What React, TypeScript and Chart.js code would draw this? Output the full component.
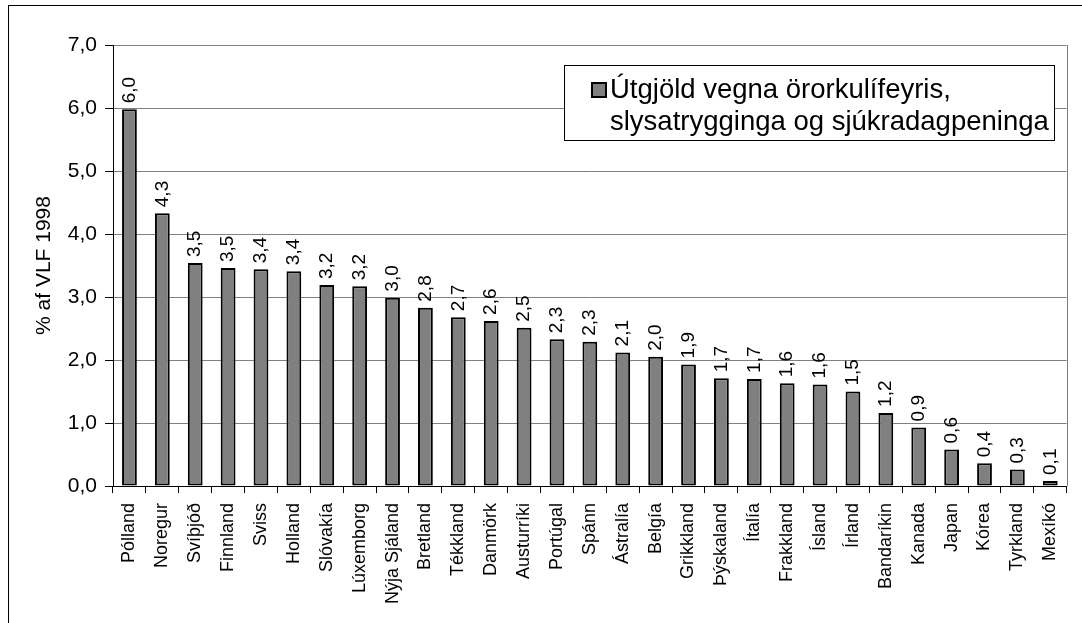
import React, { useEffect, useRef } from "react";
import { Chart, registerables } from "chart.js";

Chart.register(...registerables);

const categories: string[] = [
  "Pólland", "Noregur", "Svíþjóð", "Finnland", "Sviss", "Holland", "Slóvakía",
  "Lúxemborg", "Nýja Sjáland", "Bretland", "Tékkland", "Danmörk", "Austurríki",
  "Portúgal", "Spánn", "Ástralía", "Belgía", "Grikkland", "Þýskaland", "Ítalía",
  "Frakkland", "Ísland", "Írland", "Bandaríkin", "Kanada", "Japan", "Kórea",
  "Tyrkland", "Mexíkó",
];

const values: number[] = [
  5.98, 4.33, 3.54, 3.46, 3.44, 3.41, 3.19, 3.17, 2.99, 2.83, 2.68, 2.62, 2.51,
  2.33, 2.29, 2.12, 2.05, 1.93, 1.71, 1.70, 1.63, 1.61, 1.50, 1.16, 0.93, 0.58,
  0.36, 0.26, 0.08,
];

const valueLabels: string[] = [
  "6,0", "4,3", "3,5", "3,5", "3,4", "3,4", "3,2", "3,2", "3,0", "2,8", "2,7",
  "2,6", "2,5", "2,3", "2,3", "2,1", "2,0", "1,9", "1,7", "1,7", "1,6", "1,6",
  "1,5", "1,2", "0,9", "0,6", "0,4", "0,3", "0,1",
];

const legendLines: string[] = [
  "Útgjöld vegna örorkulífeyris,",
  "slysatrygginga og sjúkradagpeninga",
];

const yTitle = "% af VLF 1998";
const yMin = 0;
const yMax = 7;
const yStep = 1;

const FONT = "'Liberation Sans', Arial, Helvetica, sans-serif";

const labelsPlugin = {
  id: "barValueLabels",
  afterDatasetsDraw(chart: any) {
    const ctx = chart.ctx;
    const meta = chart.getDatasetMeta(0);
    ctx.save();
    ctx.font = `19px ${FONT}`;
    ctx.fillStyle = "#000";
    ctx.textAlign = "left";
    ctx.textBaseline = "middle";
    meta.data.forEach((el: any, i: number) => {
      ctx.save();
      ctx.translate(el.x, el.y - 6);
      ctx.rotate(-Math.PI / 2);
      ctx.fillText(valueLabels[i], 0, 0);
      ctx.restore();
    });
    ctx.restore();
  },
};

const framePlugin = {
  id: "frameAndLegend",
  afterDraw(chart: any) {
    const ctx = chart.ctx;
    const a = chart.chartArea;
    ctx.save();
    // right border of plot area
    ctx.strokeStyle = "#808080";
    ctx.lineWidth = 1;
    ctx.beginPath();
    ctx.moveTo(Math.round(a.right) + 0.5, a.top);
    ctx.lineTo(Math.round(a.right) + 0.5, a.bottom);
    ctx.stroke();

    // legend box
    const bx = 555.5, by = 59.5, bw = 490, bh = 75;
    ctx.fillStyle = "#fff";
    ctx.fillRect(bx, by, bw, bh);
    ctx.strokeStyle = "#000";
    ctx.strokeRect(bx, by, bw, bh);
    // swatch
    ctx.fillStyle = "#808080";
    ctx.fillRect(582, 76, 16, 16);
    ctx.lineWidth = 2;
    ctx.strokeRect(583, 77, 14, 14);
    // text
    ctx.fillStyle = "#000";
    ctx.font = `27.5px ${FONT}`;
    ctx.textAlign = "left";
    ctx.textBaseline = "alphabetic";
    ctx.fillText(legendLines[0], 601, 92);
    ctx.fillText(legendLines[1], 601, 124);
    ctx.restore();
  },
};

export default function App() {
  const ref = useRef<HTMLCanvasElement | null>(null);

  useEffect(() => {
    if (!ref.current) return;
    const chart = new Chart(ref.current, {
      type: "bar",
      data: {
        labels: categories,
        datasets: [
          {
            label: legendLines.join(" "),
            data: values,
            backgroundColor: "#808080",
            borderColor: "#000",
            borderWidth: 2,
            borderSkipped: false,
            barPercentage: 0.45,
            categoryPercentage: 1,
          },
        ],
      },
      options: {
        responsive: false,
        animation: false,
        layout: { padding: { top: 39, right: 7, left: 0, bottom: 0 } },
        plugins: {
          legend: { display: false },
          tooltip: { enabled: false },
        },
        scales: {
          x: {
            grid: {
              display: true,
              drawOnChartArea: false,
              tickLength: 7,
              color: "#000",
              offset: true,
            },
            border: { display: true, color: "#000", width: 1 },
            ticks: {
              autoSkip: false,
              maxRotation: 90,
              minRotation: 90,
              padding: 10,
              color: "#000",
              font: { family: FONT, size: 18 },
            },
            afterFit(scale: any) {
              scale.height = 137;
            },
          },
          y: {
            min: yMin,
            max: yMax,
            ticks: {
              stepSize: yStep,
              padding: 8,
              color: "#000",
              font: { family: FONT, size: 21 },
              callback: (v: any) => Number(v).toFixed(1).replace(".", ","),
            },
            grid: {
              color: "#808080",
              tickLength: 8,
              tickColor: "#000",
            },
            border: { display: true, color: "#000", width: 1 },
            title: {
              display: true,
              text: yTitle,
              color: "#000",
              font: { family: FONT, size: 21 },
              padding: { top: 23, bottom: 0 },
            },
            afterFit(scale: any) {
              scale.width = 104;
            },
          },
        },
      },
      plugins: [labelsPlugin, framePlugin],
    });
    return () => chart.destroy();
  }, []);

  return (
    <div
      style={{
        position: "absolute",
        left: 8,
        top: 5,
        width: 1074,
        height: 618,
        borderLeft: "1px solid #000",
        borderTop: "1px solid #000",
        boxSizing: "border-box",
        background: "#fff",
      }}
    >
      <canvas ref={ref} width={1073} height={617} style={{ display: "block" }} />
    </div>
  );
}
